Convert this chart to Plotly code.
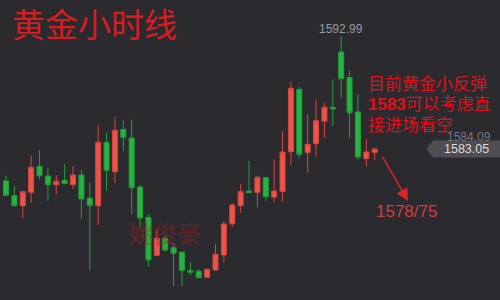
import plotly.graph_objects as go

# Hourly gold candles (oldest first)
open_ = [1580.24, 1578.94, 1578.07, 1579.24, 1581.53, 1580.68, 1579.91, 1580.30, 1579.91, 1580.76,
         1578.72, 1578.07, 1583.64, 1581.06, 1584.78, 1584.02, 1579.71, 1577.04, 1573.70, 1575.18,
         1574.37, 1573.97, 1572.35, 1572.30, 1571.77, 1572.41, 1573.73, 1576.48, 1578.07, 1579.36,
         1579.24, 1580.53, 1578.83, 1579.33, 1582.81, 1588.30, 1582.76, 1583.52, 1585.51, 1586.72,
         1591.58, 1589.34, 1586.31, 1582.20, 1582.76]
high = [1580.70, 1579.77, 1579.35, 1582.46, 1582.96, 1581.35, 1580.76, 1581.73, 1581.56, 1581.20,
        1580.12, 1585.14, 1584.46, 1585.87, 1585.54, 1585.63, 1579.89, 1577.31, 1576.02, 1575.49,
        1574.76, 1574.05, 1573.11, 1572.50, 1572.52, 1574.67, 1576.72, 1578.28, 1579.97, 1582.02,
        1580.70, 1580.62, 1582.15, 1584.63, 1588.97, 1588.53, 1586.13, 1587.36, 1587.12, 1589.21,
        1592.99, 1589.97, 1587.86, 1583.90, 1583.17]
low = [1578.92, 1577.98, 1576.96, 1578.33, 1580.39, 1578.50, 1579.07, 1579.97, 1579.56, 1576.90,
       1572.38, 1576.37, 1579.38, 1580.06, 1582.88, 1577.31, 1576.17, 1572.70, 1573.64, 1574.02,
       1571.00, 1571.00, 1571.97, 1571.68, 1571.71, 1572.35, 1573.05, 1576.19, 1577.45, 1579.20,
       1577.92, 1578.48, 1578.36, 1578.42, 1581.64, 1582.23, 1580.97, 1582.37, 1584.05, 1585.07,
       1587.56, 1584.02, 1582.11, 1581.56, 1582.08]
close = [1578.98, 1578.07, 1579.30, 1581.44, 1580.70, 1579.91, 1580.21, 1580.00, 1580.76, 1578.65,
         1578.07, 1583.64, 1581.18, 1584.70, 1584.08, 1579.65, 1576.98, 1573.29, 1575.20, 1574.17,
         1573.88, 1572.38, 1572.21, 1571.73, 1572.47, 1573.79, 1576.46, 1578.13, 1579.30, 1579.23,
         1580.56, 1578.86, 1579.36, 1582.79, 1588.39, 1582.59, 1583.47, 1585.54, 1586.72, 1586.57,
         1589.23, 1586.24, 1582.35, 1582.79, 1583.05]
bars = list(range(len(close)))

session_high = 1592.99
prev_price = 1584.09
last_price = 1583.05
high_bar = high.index(session_high)

title_text = "黄金小时线"
note_lines = ["目前黄金小反弹", "<b>1583</b>可以考虑直", "接进场看空"]
target_text = "1578/75"
watermark = "姚俊豪"

W, H = 500, 300
BG = "#2a2a2f"
RED = "#ec5349"
GREEN = "#27b340"
CJK = "Noto Sans CJK SC"
LATIN = "Liberation Sans, Arial, sans-serif"


def px(x):
    return x / W


def py(y):
    return 1 - y / H


def label(text, x, y, xref="paper", yref="paper", **kw):
    base = dict(text=text, x=x, y=y, xref=xref, yref=yref, showarrow=False,
                xanchor="center", yanchor="middle")
    base.update(kw)
    return base


fig = go.Figure(go.Candlestick(
    x=bars, open=open_, high=high, low=low, close=close,
    increasing=dict(fillcolor=RED, line=dict(color="#d9473f", width=1)),
    decreasing=dict(fillcolor=GREEN, line=dict(color="#22a03a", width=1)),
    whiskerwidth=0, showlegend=False, hoverinfo="skip",
))

annotations = [
    label(title_text, px(10), py(23), xanchor="left",
          font=dict(family=CJK, size=33, color="#d81c20")),
    label(watermark, px(165), py(232),
          font=dict(family=CJK, size=24, color="rgba(170,30,35,0.45)")),
    label(f"{session_high:.2f}", high_bar, session_high, xref="x", yref="y", yshift=7,
          font=dict(family=LATIN, size=12, color="#9a9a9e")),
    label(f"{prev_price:.2f}", px(468.5), prev_price, yref="y",
          font=dict(family=LATIN, size=12, color="#77777c")),
    label(f"{last_price:.2f}", px(466), last_price, yref="y",
          font=dict(family=LATIN, size=12.5, color="#dcdcdc")),
    label(target_text, px(406.5), py(211),
          font=dict(family=LATIN, size=17, color="#d93a3d")),
    dict(text="", x=px(408), y=py(201), xref="paper", yref="paper",
         ax=-26.5, ay=-46, axref="pixel", ayref="pixel", showarrow=True,
         arrowhead=2, arrowsize=1.6, arrowwidth=1.5, arrowcolor="#e02424"),
]
for i, line in enumerate(note_lines):
    annotations.append(label(
        line, px(366), py(84 + 20.5 * i), xanchor="left",
        font=dict(family=f"Liberation Sans, {CJK}", size=17, color="#e0101a")))

fig.update_layout(
    width=W, height=H, margin=dict(l=0, r=0, t=0, b=0),
    paper_bgcolor=BG, plot_bgcolor=BG,
    boxgap=0.15, boxgroupgap=0.3,
    xaxis=dict(range=[-0.716, 58.95], visible=False, rangeslider=dict(visible=False)),
    yaxis=dict(range=[1569.77, 1596.16], visible=False),
    annotations=annotations,
    shapes=[dict(
        type="path", xref="paper", yref="y", xsizemode="pixel", ysizemode="pixel",
        xanchor=1, yanchor=last_price,
        path="M 0 8.5 L -67 8.5 L -73.5 0 L -67 -8.5 L 0 -8.5 Z",
        fillcolor="#4d4d52", line=dict(width=0), layer="above")],
)

fig.write_html("out.html")
